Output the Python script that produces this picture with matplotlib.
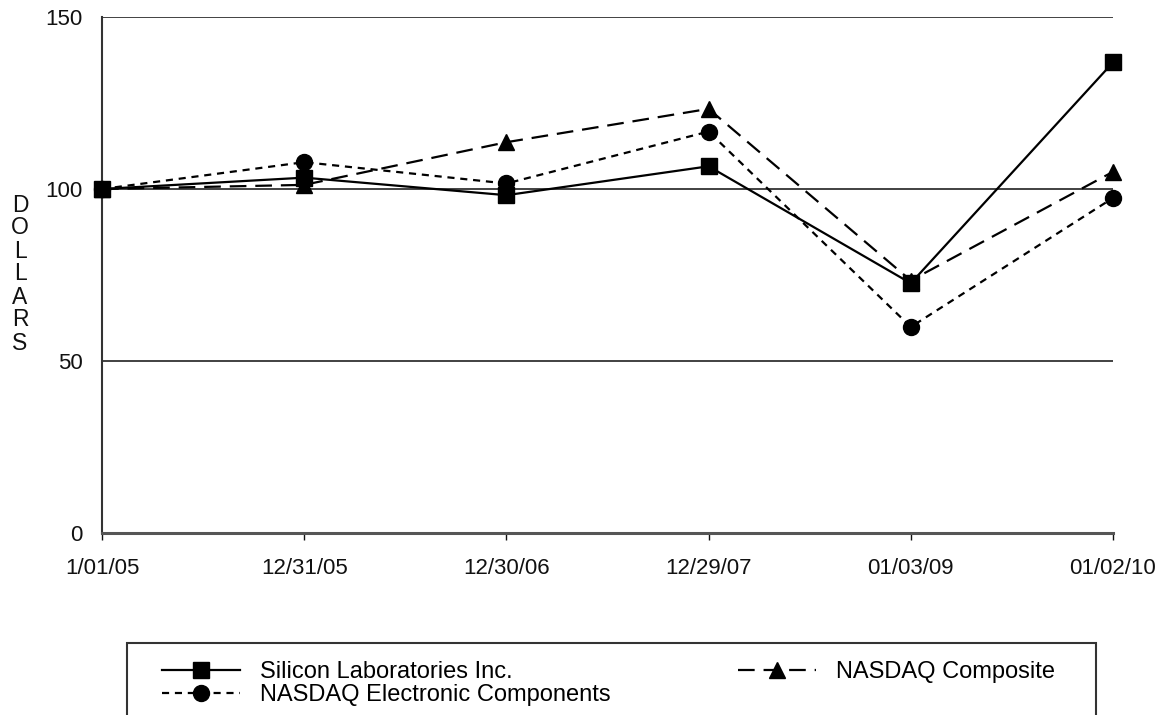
import matplotlib.pyplot as plt
from matplotlib.patches import Rectangle

plt.rcParams['font.family'] = ['Liberation Sans', 'DejaVu Sans']

dates = ["1/01/05", "12/31/05", "12/30/06", "12/29/07", "01/03/09", "01/02/10"]
silicon = [100, 103.3, 98.2, 106.6, 72.6, 136.8]
nasdaq_comp = [100, 101.2, 113.6, 123.3, 73.4, 105.0]
nasdaq_elec = [100, 107.8, 101.6, 116.7, 59.9, 97.4]

fig = plt.figure(figsize=(11.67, 7.15), dpi=100)
ax = fig.add_axes([102 / 1167, 1 - 533 / 715, (1113 - 102) / 1167, (533 - 17) / 715])

x = range(len(dates))
ax.plot(x, silicon, color='black', lw=1.6, marker='s', ms=11.5,
        clip_on=False, zorder=5, label="Silicon Laboratories Inc.")
ax.plot(x, nasdaq_comp, color='black', lw=1.6, ls=(0, (7.5, 4)), marker='^', ms=11.5,
        clip_on=False, zorder=4, label="NASDAQ Composite")
ax.plot(x, nasdaq_elec, color='black', lw=1.6, ls=(0, (3.2, 2.6)), marker='o', ms=11.5,
        clip_on=False, zorder=4, label="NASDAQ Electronic Components")

ax.set_xlim(0, 5)
ax.set_ylim(0, 150)
ax.set_yticks([0, 50, 100, 150])
ax.set_xticks(list(x))
ax.set_xticklabels(dates)
ax.yaxis.grid(True, color='#333333', lw=1.3)
ax.set_axisbelow(True)
for s in ['top', 'right']:
    ax.spines[s].set_visible(False)
ax.spines['left'].set_color('#333333')
ax.spines['left'].set_linewidth(1.5)
ax.spines['bottom'].set_color('#555555')
ax.spines['bottom'].set_linewidth(2.2)
ax.tick_params(axis='y', length=0, pad=14, labelsize=16, colors='#111111')
ax.tick_params(axis='x', length=5, width=1, direction='out', pad=13,
               labelsize=16, colors='#111111')

fig.text(20 / 1167, 1 - 274 / 715, "D\nO\nL\nL\nA\nR\nS", ha='center', va='center',
         fontsize=16.5, linespacing=1.0, color='#111111')

# legend box runs off the bottom edge
fig.patches.append(Rectangle((127 / 1167, -0.05), (1096 - 127) / 1167, 0.05 + (715 - 643) / 715,
                             transform=fig.transFigure, fill=False, ec='#333333', lw=1.5))
handles, labels = ax.get_legend_handles_labels()
order = [0, 2, 1]
fig.legend([handles[i] for i in order], [labels[i] for i in order], ncol=2,
           loc='upper left', bbox_to_anchor=(162 / 1167, 1 - 661 / 715),
           frameon=False, fontsize=17, handlelength=3.3, handletextpad=0.85,
           columnspacing=5.4, labelspacing=0.05, borderaxespad=0, borderpad=0)

fig.savefig("out.png", dpi=100)
